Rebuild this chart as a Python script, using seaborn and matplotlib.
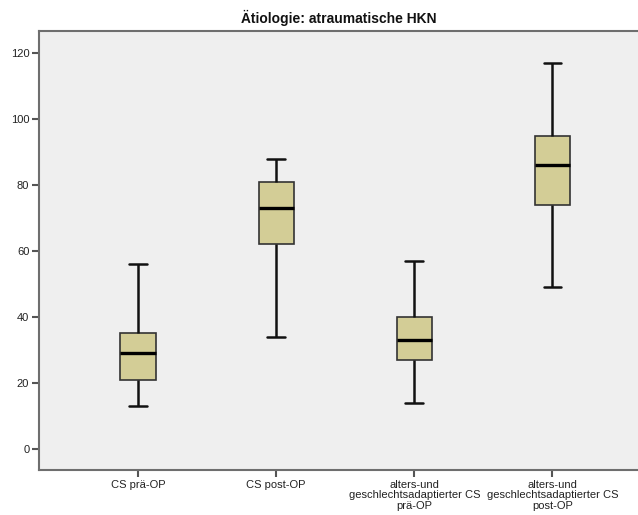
import matplotlib
matplotlib.use("Agg")
import matplotlib.pyplot as plt
import seaborn as sns
import pandas as pd

categories = ["CS prä-OP", "CS post-OP",
              "alters-und\ngeschlechtsadaptierter CS\nprä-OP",
              "alters-und\ngeschlechtsadaptierter CS\npost-OP"]
# five-number summaries: whisker low, Q1, median, Q3, whisker high
whisker_low = [13, 34, 14, 49]
q1 = [21, 62, 27, 74]
median = [29, 73, 33, 86]
q3 = [35, 81, 40, 95]
whisker_high = [56, 88, 57, 117]
yticks = [0, 20, 40, 60, 80, 100, 120]
title = "Ätiologie: atraumatische HKN"

rows = []
for i, c in enumerate(categories):
    for v in (whisker_low[i], q1[i], median[i], q3[i], whisker_high[i]):
        rows.append({"group": c, "value": v})
df = pd.DataFrame(rows)

sns.set_style("white")
plt.rcParams["font.family"] = ["Liberation Sans", "DejaVu Sans"]

fig = plt.figure(figsize=(6.38, 5.15), dpi=100)
ax = fig.add_axes([39/638, 1 - 470/515, 1 - 39/638, (470 - 31)/515])
ax.set_facecolor("#efefef")

sns.boxplot(data=df, x="group", y="value", order=categories, whis=(0, 100),
            width=0.254, color="#d3cd96", saturation=1, ax=ax,
            boxprops=dict(edgecolor="#333333", linewidth=1.2),
            whiskerprops=dict(color="#111111", linewidth=1.8),
            capprops=dict(color="#111111", linewidth=1.8),
            medianprops=dict(color="#000000", linewidth=2.4),
            showfliers=False)

ax.set_xlim(-0.717, 3.62)
ax.set_ylim(-6.4, 126.7)
ax.set_yticks(yticks)
ax.set_xlabel("")
ax.set_ylabel("")
ax.tick_params(axis="both", bottom=True, left=True, direction="out", length=5,
               width=1.5, color="#555555", labelsize=8, labelcolor="#222222", pad=2)
for lbl in ax.get_xticklabels():
    lbl.set_linespacing(1.05)
for s in ["left", "bottom", "top"]:
    ax.spines[s].set_color("#6e6e6e")
    ax.spines[s].set_linewidth(1.5)
ax.spines["right"].set_visible(False)
ax.set_title(title, fontsize=10, fontweight="bold", pad=6, color="#111111")

fig.savefig("out.png", dpi=100)
